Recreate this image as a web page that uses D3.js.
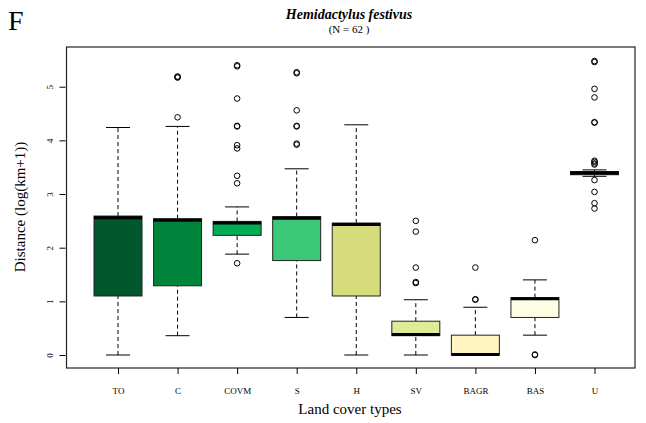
<!DOCTYPE html>
<html><head><meta charset="utf-8">
<script src="https://cdn.jsdelivr.net/npm/d3@7"></script>
<style>body{margin:0;background:#fff}svg{display:block}text{font-family:"Liberation Serif","DejaVu Serif",serif}</style>
</head><body>
<svg id="chart" width="646" height="423"></svg>
<script>
const categories = ["TO","C","COVM","S","H","SV","BAGR","BAS","U"];
const whiskerLow = [0, 0.36, 1.88, 0.70, 0, 0, 0, 0.37, 3.33];
const q1         = [1.10, 1.29, 2.23, 1.76, 1.10, 0.36, 0, 0.70, 3.36];
const median     = [2.56, 2.51, 2.46, 2.55, 2.43, 0.38, 0.01, 1.05, 3.39];
const q3         = [2.59, 2.54, 2.49, 2.58, 2.46, 0.63, 0.37, 1.07, 3.42];
const whiskerHigh= [4.24, 4.26, 2.76, 3.47, 4.29, 1.03, 0.89, 1.40, 3.45];
const outliers = [
  [],
  [5.19, 5.18, 5.17, 4.43],
  [5.40, 5.38, 4.78, 4.27, 4.26, 3.91, 3.85, 3.34, 3.20, 1.71],
  [5.27, 5.25, 4.56, 4.27, 4.26, 3.94, 3.92],
  [],
  [2.50, 2.30, 1.63, 1.36, 1.34],
  [1.63, 1.04, 1.03],
  [2.14, 0, 0.01],
  [5.48, 5.46, 4.96, 4.80, 4.34, 4.33, 3.62, 3.60, 3.57, 3.55, 3.26, 3.04, 2.83, 2.73]
];
const fills = ["#00572b","#00843c","#00ad56","#3cc878","#d6dc7b","#ddec99","#fff4bf","#fffde4","#8b1010"];
const yTicks = [0,1,2,3,4,5];

const svg = d3.select("#chart");
const L = 66.5, R = 635, T = 47, B = 368;
const x = d3.scalePoint().domain(categories).range([118, 594.5]);
const y = d3.scaleLinear().domain([-0.242, 5.74]).range([B, T]);
const bw = 48, cw = 24;

// texts
svg.append("text").attr("x", 8).attr("y", 30).attr("font-size", 28).text("F");
svg.append("text").attr("x", 349).attr("y", 19).attr("text-anchor","middle")
  .attr("font-size", 14).attr("font-weight","bold").attr("font-style","italic").text("Hemidactylus festivus");
svg.append("text").attr("x", 349).attr("y", 33).attr("text-anchor","middle")
  .attr("font-size", 11).text("(N = 62 )");

// boxes
const g = svg.append("g");
categories.forEach((c, i) => {
  const cx = x(c);
  // whiskers
  g.append("line").attr("x1", cx).attr("x2", cx).attr("y1", y(whiskerLow[i])).attr("y2", y(q1[i]))
    .attr("stroke","#000").attr("stroke-dasharray","4,3");
  g.append("line").attr("x1", cx).attr("x2", cx).attr("y1", y(q3[i])).attr("y2", y(whiskerHigh[i]))
    .attr("stroke","#000").attr("stroke-dasharray","4,3");
  [whiskerLow[i], whiskerHigh[i]].forEach(v => {
    g.append("line").attr("x1", cx - cw/2).attr("x2", cx + cw/2).attr("y1", y(v)).attr("y2", y(v))
      .attr("stroke","#000");
  });
  g.append("rect").attr("x", cx - bw/2).attr("width", bw)
    .attr("y", y(q3[i])).attr("height", Math.max(0.5, y(q1[i]) - y(q3[i])))
    .attr("fill", fills[i]).attr("stroke","#222").attr("stroke-width",1);
  g.append("line").attr("x1", cx - bw/2).attr("x2", cx + bw/2).attr("y1", y(median[i])).attr("y2", y(median[i]))
    .attr("stroke","#000").attr("stroke-width",3);
  outliers[i].forEach(v => {
    g.append("circle").attr("cx", cx).attr("cy", y(v)).attr("r", 2.8)
      .attr("fill","none").attr("stroke","#000").attr("stroke-width",1);
  });
});

// frame
svg.append("rect").attr("x", L).attr("y", T).attr("width", R - L).attr("height", B - T)
  .attr("fill","none").attr("stroke","#222").attr("stroke-width",1.2);

// y axis
const ya = svg.append("g").attr("transform", `translate(${L - 7},0)`)
  .call(d3.axisLeft(y).tickValues(yTicks).tickSize(6).tickFormat(d3.format("d")).tickPadding(4));
ya.select(".domain").remove();
ya.selectAll("line").attr("transform","translate(6,0)").attr("x2",-6).attr("stroke","#000");
ya.selectAll("text").attr("font-family","Liberation Serif, serif").attr("font-size",9).attr("fill","#000")
  .attr("text-anchor","middle").attr("dy",null).attr("x",null)
  .attr("transform", "translate(-10,0) rotate(-90)").attr("dy","0.35em");

// x axis
const xa = svg.append("g").attr("transform", `translate(0,${B})`)
  .call(d3.axisBottom(x).tickSize(6).tickPadding(14));
xa.select(".domain").remove();
xa.selectAll("line").attr("stroke","#000");
xa.selectAll("text").attr("font-family","Liberation Serif, serif").attr("font-size",9).attr("fill","#000");

svg.append("text").attr("x", 350).attr("y", 414).attr("text-anchor","middle").attr("font-size",15)
  .text("Land cover types");
svg.append("text").attr("transform","translate(25,207) rotate(-90)").attr("text-anchor","middle")
  .attr("font-size",15).text("Distance (log(km+1))");
</script>
</body></html>
